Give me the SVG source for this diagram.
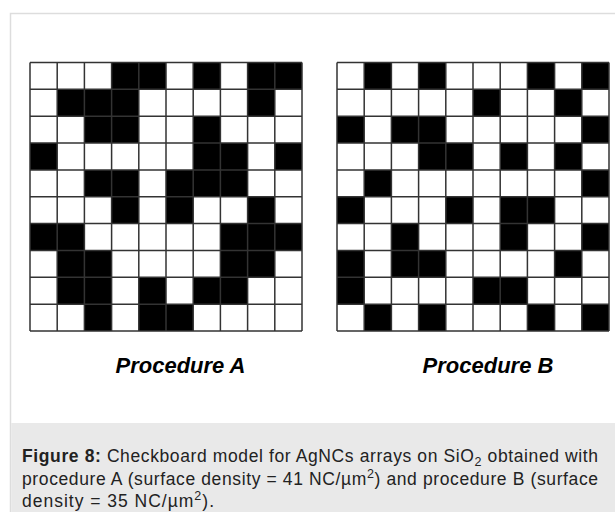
<svg xmlns="http://www.w3.org/2000/svg" width="615" height="512" viewBox="0 0 615 512">
<style>
.frame{fill:#ffffff;stroke:#dddddd;stroke-width:1.5}
.cap{fill:#e9e9e9}
.cells{fill:#000000}
.lines{fill:none;stroke:#333333;stroke-width:1.5}
.lbl{font-family:"Liberation Sans",Arial,sans-serif;font-size:22px;font-weight:bold;font-style:italic;fill:#000;text-anchor:middle}
.ct{font-family:"Liberation Sans",Arial,sans-serif;font-size:17.5px;fill:#222}
</style>
<defs>
<path id="gl" d="M0 0V268.5M27.2 0V268.5M54.4 0V268.5M81.6 0V268.5M108.8 0V268.5M136 0V268.5M163.2 0V268.5M190.4 0V268.5M217.6 0V268.5M244.8 0V268.5M272 0V268.5M0 0H272M0 26.85H272M0 53.7H272M0 80.55H272M0 107.4H272M0 134.25H272M0 161.1H272M0 187.95H272M0 214.8H272M0 241.65H272M0 268.5H272"/>
</defs>
<rect class="frame" x="10.5" y="13.5" width="610" height="505"/>
<rect class="cap" x="11.25" y="423" width="604" height="89"/>
<g id="gridA">
<rect x="30" y="62.5" width="272" height="268.5" fill="#fff"/>
<path class="cells" transform="translate(30 62.5) scale(27.2 26.85)" d="M3 0h2v1h-2zM6 0h1v1h-1zM8 0h2v1h-2zM1 1h3v1h-3zM8 1h1v1h-1zM2 2h2v1h-2zM6 2h1v1h-1zM0 3h1v1h-1zM6 3h2v1h-2zM9 3h1v1h-1zM2 4h2v1h-2zM5 4h3v1h-3zM3 5h1v1h-1zM5 5h1v1h-1zM8 5h1v1h-1zM0 6h2v1h-2zM7 6h3v1h-3zM1 7h2v1h-2zM7 7h2v1h-2zM1 8h2v1h-2zM4 8h1v1h-1zM6 8h2v1h-2zM2 9h1v1h-1zM4 9h2v1h-2z"/>
<use href="#gl" class="lines" transform="translate(30 62.5)"/>
</g>
<g id="gridB">
<rect x="337" y="62.5" width="272" height="268.5" fill="#fff"/>
<path class="cells" transform="translate(337 62.5) scale(27.2 26.85)" d="M1 0h1v1h-1zM3 0h1v1h-1zM7 0h1v1h-1zM9 0h1v1h-1zM5 1h1v1h-1zM8 1h1v1h-1zM0 2h1v1h-1zM2 2h2v1h-2zM9 2h1v1h-1zM3 3h2v1h-2zM6 3h1v1h-1zM8 3h1v1h-1zM1 4h1v1h-1zM9 4h1v1h-1zM0 5h1v1h-1zM4 5h1v1h-1zM6 5h2v1h-2zM2 6h1v1h-1zM6 6h1v1h-1zM9 6h1v1h-1zM0 7h1v1h-1zM2 7h2v1h-2zM8 7h1v1h-1zM0 8h1v1h-1zM5 8h2v1h-2zM1 9h1v1h-1zM3 9h1v1h-1zM7 9h1v1h-1zM9 9h1v1h-1z"/>
<use href="#gl" class="lines" transform="translate(337 62.5)"/>
</g>
<g id="labels">
<text class="lbl" x="180.5" y="373">Procedure A</text>
<text class="lbl" x="488" y="373">Procedure B</text>
</g>
<g id="caption">
<text class="ct" x="22" y="462" textLength="576" lengthAdjust="spacing"><tspan font-weight="bold">Figure 8:</tspan> Checkboard model for AgNCs arrays on SiO<tspan font-size="12.5" dy="4">2</tspan><tspan dy="-4"> obtained with</tspan></text>
<text class="ct" x="22" y="485" textLength="576" lengthAdjust="spacing">procedure A (surface density = 41 NC/µm<tspan font-size="12.5" dy="-7">2</tspan><tspan dy="7">) and procedure B (surface</tspan></text>
<text class="ct" x="22" y="507" textLength="192" lengthAdjust="spacing">density = 35 NC/µm<tspan font-size="12.5" dy="-7">2</tspan><tspan dy="7">).</tspan></text>
</g>
</svg>
